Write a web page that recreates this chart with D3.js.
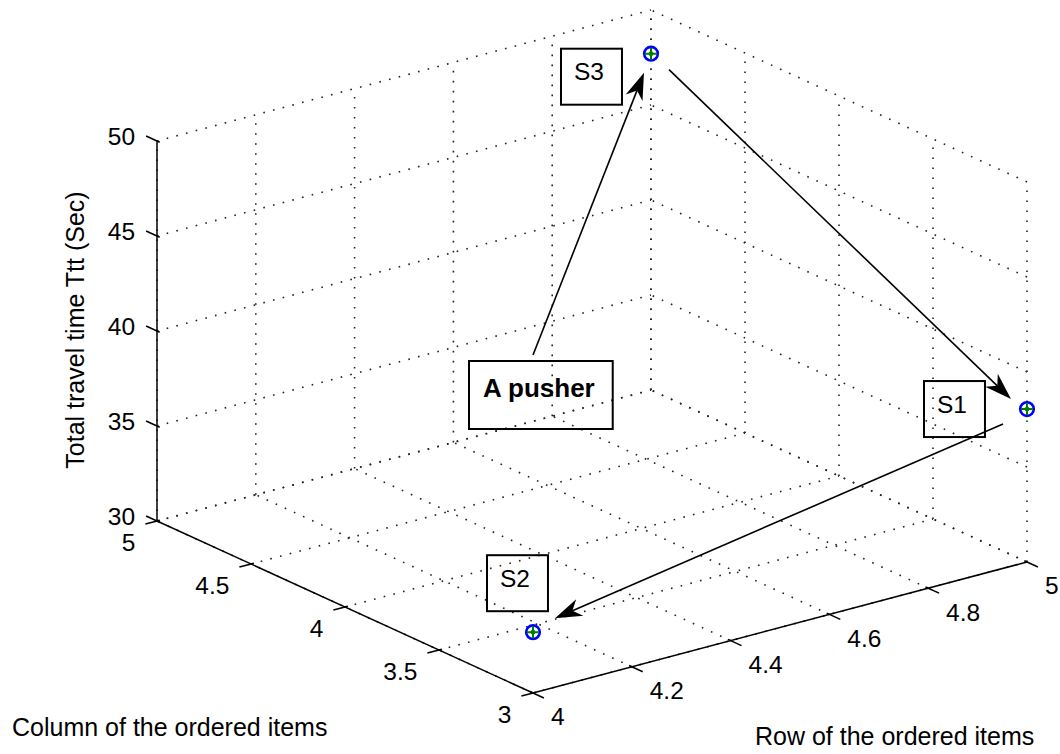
<!DOCTYPE html>
<html>
<head>
<meta charset="utf-8">
<script src="https://cdn.jsdelivr.net/npm/d3@7"></script>
<style>
  html, body { margin: 0; padding: 0; background: #fff; }
  svg { display: block; }
  text { font-family: "Liberation Sans", Arial, sans-serif; fill: #000; }
</style>
</head>
<body>
<svg id="chart" width="1060" height="754"></svg>
<script>
// ---- Axis ticks ----
const rowTicks = [4, 4.2, 4.4, 4.6, 4.8, 5];
const colTicks = [3, 3.5, 4, 4.5, 5];
const timeTicks = [30, 35, 40, 45, 50];

// ---- Storage positions visited and their total travel time ----
const stopNames = ["S1", "S2", "S3"];
const stopRows  = [5, 4, 5];
const stopCols  = [3, 3, 5];
const stopTimes = [38.05, 33.2, 47.7];

// Route drawn as arrows between stops
const routeFrom = ["S3", "S1"];
const routeTo   = ["S1", "S2"];

const rowLabel  = "Row of the ordered items";
const colLabel  = "Column of the ordered items";
const timeLabel = "Total travel time Ttt (Sec)";
const noteText  = "A pusher";

// ---- Layout of the 3-D box (orthographic view) ----
const origin = [533, 693];      // row 4, column 3, time 30
const rowVec = [494, -131];     // full row range
const colVec = [-376, -172];    // full column range
const zVec   = [0, -380];       // full time range

const sRow = d3.scaleLinear().domain([4, 5]).range([0, 1]);
const sCol = d3.scaleLinear().domain([3, 5]).range([0, 1]);
const sZ   = d3.scaleLinear().domain([30, 50]).range([0, 1]);

function P(r, c, z) {
  const a = sRow(r), b = sCol(c), g = sZ(z);
  return [
    origin[0] + a * rowVec[0] + b * colVec[0] + g * zVec[0],
    origin[1] + a * rowVec[1] + b * colVec[1] + g * zVec[1]
  ];
}
function unit(v) { const n = Math.hypot(v[0], v[1]); return [v[0] / n, v[1] / n]; }

const [rMin, rMax] = sRow.domain();
const [cMin, cMax] = sCol.domain();
const [zMin, zMax] = sZ.domain();

const svg = d3.select("#chart");
const line = d3.line();

// ---- Dotted grid on floor and the two back walls ----
const grid = [];
rowTicks.forEach(r => grid.push([P(r, cMin, zMin), P(r, cMax, zMin)]));   // floor
colTicks.forEach(c => grid.push([P(rMin, c, zMin), P(rMax, c, zMin)]));   // floor
rowTicks.forEach(r => grid.push([P(r, cMax, zMin), P(r, cMax, zMax)]));   // back-left wall
timeTicks.forEach(z => grid.push([P(rMin, cMax, z), P(rMax, cMax, z)]));  // back-left wall
colTicks.forEach(c => grid.push([P(rMax, c, zMin), P(rMax, c, zMax)]));   // back-right wall
timeTicks.forEach(z => grid.push([P(rMax, cMin, z), P(rMax, cMax, z)]));  // back-right wall

svg.append("g").attr("class", "grid")
  .selectAll("path").data(grid).join("path")
  .attr("d", d => line(d))
  .attr("fill", "none")
  .attr("stroke", "#222")
  .attr("stroke-width", 1.6)
  .attr("stroke-dasharray", "1.6,8.4");

// ---- Solid axis lines ----
const axes = [
  [P(rMin, cMax, zMin), P(rMin, cMax, zMax)],  // time
  [P(rMin, cMin, zMin), P(rMin, cMax, zMin)],  // column
  [P(rMin, cMin, zMin), P(rMax, cMin, zMin)]   // row
];
svg.append("g").selectAll("path").data(axes).join("path")
  .attr("d", d => line(d))
  .attr("fill", "none")
  .attr("stroke", "#000")
  .attr("stroke-width", 1.5);

// ---- Ticks and tick labels ----
const tickLen = 12, tickIn = 3;
const uCol = unit(colVec);
const uRowNeg = unit([-rowVec[0], -rowVec[1]]);
const uColNeg = [-uCol[0], -uCol[1]];
const tickFont = 24.5;

function drawTicks(values, pos, dir, labelFn, cls) {
  const g = svg.append("g").attr("class", cls);
  values.forEach(v => {
    const p = pos(v);
    const a = [p[0] - dir[0] * tickIn, p[1] - dir[1] * tickIn];
    const b = [p[0] + dir[0] * tickLen, p[1] + dir[1] * tickLen];
    g.append("path").attr("d", line([a, b]))
      .attr("stroke", "#000").attr("stroke-width", 1.5).attr("fill", "none");
    labelFn(g, v, b);
  });
}

// time axis: labels to the left of tick end
drawTicks(timeTicks, z => P(rMin, cMax, z), uCol, (g, v, b) => {
  g.append("text").attr("x", b[0] - 11).attr("y", b[1])
    .attr("text-anchor", "end").attr("dominant-baseline", "central")
    .attr("font-size", tickFont).text(v);
}, "z-ticks");

// column axis
drawTicks(colTicks, c => P(rMin, c, zMin), uRowNeg, (g, v, b) => {
  g.append("text").attr("x", b[0] - 10).attr("y", b[1] + 18)
    .attr("text-anchor", "end").attr("dominant-baseline", "central")
    .attr("font-size", tickFont).text(v);
}, "col-ticks");

// row axis
drawTicks(rowTicks, r => P(r, cMin, zMin), uColNeg, (g, v, b) => {
  g.append("text").attr("x", b[0] + 7).attr("y", b[1] + 19)
    .attr("text-anchor", "start").attr("dominant-baseline", "central")
    .attr("font-size", tickFont).text(v);
}, "row-ticks");

// ---- Axis titles ----
svg.append("text").attr("x", 12).attr("y", 736)
  .attr("font-size", 25).text(colLabel);
svg.append("text").attr("x", 755).attr("y", 745)
  .attr("font-size", 25).text(rowLabel);
svg.append("text")
  .attr("transform", "translate(84,330) rotate(-90)")
  .attr("text-anchor", "middle")
  .attr("font-size", 25).text(timeLabel);

// ---- Stops ----
const stops = stopNames.map((n, i) => ({
  name: n, row: stopRows[i], col: stopCols[i], time: stopTimes[i],
  p: P(stopRows[i], stopCols[i], stopTimes[i])
}));
const byName = Object.fromEntries(stops.map(s => [s.name, s]));

const mk = svg.append("g").attr("class", "stops")
  .selectAll("g").data(stops).join("g")
  .attr("transform", d => `translate(${d.p[0]},${d.p[1]})`);
mk.append("circle").attr("r", 6.8)
  .attr("fill", "none").attr("stroke", "#0000ff").attr("stroke-width", 2.6);
mk.append("path").attr("d", "M-6,0H6M0,-6V6")
  .attr("stroke", "#008000").attr("stroke-width", 2);
mk.append("circle").attr("r", 2.4).attr("fill", "#008000");

// ---- Label boxes next to each stop ----
const boxOffset = { S1: [-103, -28], S2: [-46, -77], S3: [-90, -5] };
const boxPad = 13, boxCapTop = 14, boxH = 56;
stops.forEach(s => {
  const [ox, oy] = boxOffset[s.name];
  const x0 = s.p[0] + ox, y0 = s.p[1] + oy;
  const g = svg.append("g");
  const t = g.append("text").attr("x", x0 + boxPad).attr("y", y0 + boxCapTop + 17.5)
    .attr("font-size", tickFont).text(s.name);
  const w = t.node().getComputedTextLength() + 2 * boxPad + 5;
  g.insert("rect", "text").attr("x", x0).attr("y", y0)
    .attr("width", w).attr("height", boxH)
    .attr("fill", "none").attr("stroke", "#000").attr("stroke-width", 2);
});

// ---- Note box ----
const notePos = [469, 361];
const noteG = svg.append("g");
const noteT = noteG.append("text")
  .attr("x", notePos[0] + 14).attr("y", notePos[1] + 36)
  .attr("font-size", 26).attr("font-weight", "bold").text(noteText);
const noteW = noteT.node().getComputedTextLength() + 32;
noteG.insert("rect", "text").attr("x", notePos[0]).attr("y", notePos[1])
  .attr("width", noteW).attr("height", 68)
  .attr("fill", "none").attr("stroke", "#000").attr("stroke-width", 2);

// ---- Arrows ----
function arrow(tail, tip) {
  const u = unit([tip[0] - tail[0], tip[1] - tail[1]]);
  const n = [-u[1], u[0]];
  const L = 27, W = 9, notch = 8;
  const base = [tip[0] - u[0] * (L - notch), tip[1] - u[1] * (L - notch)];
  const g = svg.append("g").attr("class", "arrow");
  g.append("path").attr("d", line([tail, base]))
    .attr("stroke", "#000").attr("stroke-width", 1.6).attr("fill", "none");
  const head = [
    tip,
    [tip[0] - u[0] * L + n[0] * W, tip[1] - u[1] * L + n[1] * W],
    base,
    [tip[0] - u[0] * L - n[0] * W, tip[1] - u[1] * L - n[1] * W]
  ];
  g.append("path").attr("d", line(head) + "Z").attr("fill", "#000");
}

// gaps kept clear around each stop's marker at tail / tip
const tailGap = { S3: [18, 16], S1: [-24, 15] };
const tipGap  = { S1: [-16, -10], S2: [22, -14] };
routeFrom.forEach((f, i) => {
  const a = byName[f].p, b = byName[routeTo[i]].p;
  arrow([a[0] + tailGap[f][0], a[1] + tailGap[f][1]],
        [b[0] + tipGap[routeTo[i]][0], b[1] + tipGap[routeTo[i]][1]]);
});

// note arrow pointing to S3
const s3 = byName["S3"].p;
arrow([notePos[0] + 64, notePos[1] - 6], [s3[0] - 7, s3[1] + 19]);
</script>
</body>
</html>
